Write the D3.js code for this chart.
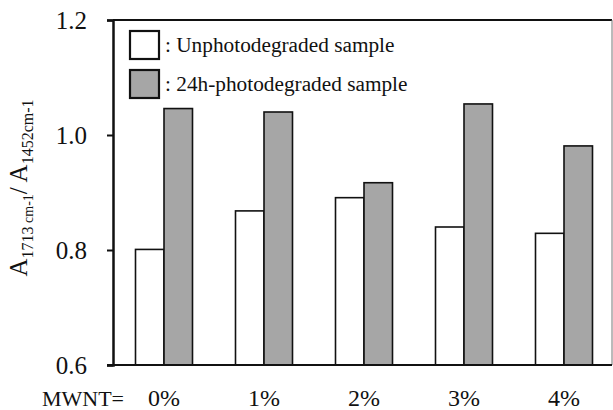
<!DOCTYPE html>
<html>
<head>
<meta charset="utf-8">
<script src="https://cdn.jsdelivr.net/npm/d3@7"></script>
<style>
  html, body { margin: 0; padding: 0; background: #fff; }
</style>
</head>
<body>
<svg id="chart" width="613" height="410"></svg>
<script>
const categories = ["0%", "1%", "2%", "3%", "4%"];
const seriesNames = [": Unphotodegraded sample", ": 24h-photodegraded sample"];
const unphotodegraded = [0.801, 0.868, 0.891, 0.840, 0.829];
const photodegraded = [1.046, 1.040, 0.917, 1.054, 0.981];
const yTicks = [0.6, 0.8, 1.0, 1.2];
const xPrefix = "MWNT=";

const colors = ["#ffffff", "#a6a6a6"];
const seriesValues = [unphotodegraded, photodegraded];
const FONT = "'Liberation Serif'";

const svg = d3.select("#chart").style("font-family", FONT);
const frame = { left: 113, right: 612, top: 20, bottom: 365 };

const y = d3.scaleLinear().domain([0.6, 1.2]).range([frame.bottom, frame.top]);
const x0 = d3.scaleBand().domain(categories).range([114, 614]).paddingInner(0.43).paddingOuter(0.215);
const x1 = d3.scaleBand().domain([0, 1]).range([0, x0.bandwidth()]);

// bars
const groups = svg.append("g").selectAll("g")
  .data(categories)
  .join("g")
  .attr("transform", d => `translate(${x0(d)},0)`);

groups.selectAll("rect")
  .data((d, i) => seriesValues.map((vals, s) => ({ s, v: vals[i] })))
  .join("rect")
  .attr("x", d => x1(d.s))
  .attr("width", x1.bandwidth())
  .attr("y", d => y(d.v))
  .attr("height", d => y(0.6) - y(d.v))
  .attr("fill", d => colors[d.s])
  .attr("stroke", "#111")
  .attr("stroke-width", 1.6);

// frame top & right
svg.append("line").attr("x1", frame.left).attr("x2", frame.right)
  .attr("y1", frame.top).attr("y2", frame.top)
  .attr("stroke", "#111").attr("stroke-width", 2);
svg.append("line").attr("x1", frame.right).attr("x2", frame.right)
  .attr("y1", frame.top).attr("y2", frame.bottom)
  .attr("stroke", "#777").attr("stroke-width", 1);

// y axis
const yAxis = svg.append("g")
  .attr("transform", `translate(${frame.left},0)`)
  .call(d3.axisLeft(y).tickValues(yTicks).tickFormat(d3.format(".1f")).tickSizeOuter(0).tickSize(6).tickPadding(20));
yAxis.attr("font-family", null);
yAxis.select(".domain").attr("stroke", "#111").attr("stroke-width", 2.5);
yAxis.selectAll(".tick line").attr("stroke", "#111").attr("stroke-width", 2);
yAxis.selectAll(".tick text").style("font-family", FONT).attr("font-size", 25).attr("fill", "#111");

// bottom axis line
svg.append("line").attr("x1", frame.left - 6).attr("x2", frame.right)
  .attr("y1", frame.bottom).attr("y2", frame.bottom)
  .attr("stroke", "#111").attr("stroke-width", 2);

// x labels
const xAxis = svg.append("g")
  .attr("transform", `translate(0,${frame.bottom})`)
  .call(d3.axisBottom(x0).tickSize(0).tickPadding(24));
xAxis.attr("font-family", null);
xAxis.select(".domain").remove();
xAxis.selectAll(".tick text").style("font-family", FONT).attr("font-size", 24).attr("fill", "#111");

svg.append("text")
  .attr("x", 83).attr("y", 406)
  .attr("text-anchor", "middle")
  .style("font-family", FONT)
  .attr("font-size", 22).attr("fill", "#111")
  .text(xPrefix);

// legend
const legend = svg.append("g");
seriesNames.forEach((name, i) => {
  const ly = 31 + i * 39;
  legend.append("rect")
    .attr("x", 130).attr("y", ly).attr("width", 29).attr("height", 28)
    .attr("fill", colors[i]).attr("stroke", "#111").attr("stroke-width", 2.2);
  legend.append("text")
    .attr("x", 165).attr("y", ly + 21)
    .style("font-family", FONT)
    .attr("font-size", 21.3).attr("fill", "#111")
    .text(name);
});

// y title
const title = svg.append("text")
  .attr("transform", "translate(27,188) rotate(-90)")
  .attr("text-anchor", "middle")
  .style("font-family", FONT)
  .attr("font-size", 25).attr("fill", "#111");
title.append("tspan").text("A");
title.append("tspan").attr("font-size", 16).attr("dy", 6).text("1713");
title.append("tspan").attr("font-size", 14).text(" cm-1");
title.append("tspan").attr("dy", -6).text("/ A");
title.append("tspan").attr("font-size", 16).attr("dy", 6).text("1452cm-1");
</script>
</body>
</html>
